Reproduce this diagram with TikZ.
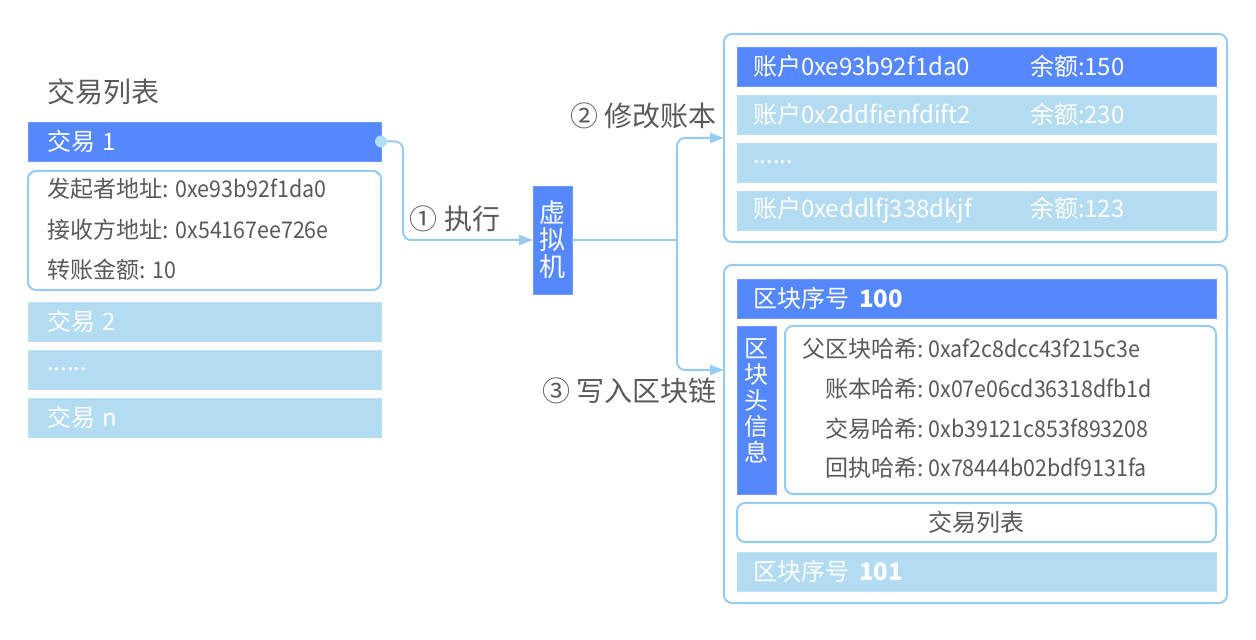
\documentclass[tikz,border=0pt]{standalone}
\usepackage{fontspec}
\setmainfont{Noto Sans CJK SC}
\newfontfamily\hexfont[FakeStretch=0.93]{Noto Sans CJK SC}
\newcommand\hexv[1]{{\hexfont #1}}
\usetikzlibrary{positioning, arrows.meta}

\definecolor{blueD}{HTML}{5588FF}
\definecolor{blueL}{HTML}{B3DBF1}
\definecolor{lineC}{HTML}{95CBF5}
\definecolor{dotC}{HTML}{B0DEFA}
\definecolor{txtC}{HTML}{595959}

\begin{document}
\begin{tikzpicture}[
  x=0.5pt, y=-0.5pt,
  font=\fontsize{12}{14}\selectfont, text=txtC,
  node distance=4.5pt,
  dark/.style={fill=blueD, draw=blueD!85!white, text=white, inner ysep=0pt, outer sep=0pt},
  light/.style={fill=blueL, draw=blueL!85!white, text=white, inner ysep=0pt, outer sep=0pt},
  lrow/.style={minimum height=19.5pt, inner xsep=9.5pt, text width=157.5pt, align=left},
  arow/.style={minimum height=19.5pt, inner xsep=8pt, text width=223.5pt, align=left},
  box/.style={draw=lineC, line width=1pt, rounded corners=4pt, fill=white, outer sep=0pt},
  txt/.style={inner sep=0pt, anchor=west, font=\fontsize{11.5}{13}\selectfont},
  big/.style={font=\fontsize{14}{16}\selectfont},
  conn/.style={draw=lineC, line width=1pt},
  flow/.style={conn, rounded corners=4pt, -{Triangle[length=7pt, width=5pt]}},
]
  \useasboundingbox (0,0) rectangle (1256,640);

  % transaction list (left)
  \node[big, inner sep=0pt, anchor=west] (title) at (47,92) {交易列表};
  \node[dark, lrow, anchor=north west] (tx1) at (28,122) {交易 1};
  \node[box, below=5pt of tx1, minimum width=176.5pt, minimum height=59.5pt] (txinfo) {};
  \node[txt] (from) at (47,189) {发起者地址: \hexv{0xe93b92f1da0}};
  \node[txt] (to) at (47,230) {接收方地址: \hexv{0x54167ee726e}};
  \node[txt] (amt) at (47,270) {转账金额: \hexv{10}};
  \node[light, lrow, below=6pt of txinfo] (tx2) {交易 2};
  \node[light, lrow, below=of tx2] (txdots) {......};
  \node[light, lrow, below=of txdots] (txn) {交易 n};

  % virtual machine
  \node[dark, minimum width=19.5pt, minimum height=54pt, inner xsep=0pt, align=center,
    font=\fontsize{13}{13.5}\selectfont] (vm) at (552.5,240) {虚\\拟\\机};

  % ledger (top right)
  \node[box, anchor=north west, minimum width=251.5pt, minimum height=104pt] (acc) at (724,34) {};
  \node[dark, arow, anchor=north west] (acc1) at (737,47) {\makebox[138.5pt][l]{账户0xe93b92f1da0}余额:150};
  \node[light, arow, below=of acc1] (acc2) {\makebox[138.5pt][l]{账户0x2ddfienfdift2}余额:230};
  \node[light, arow, below=of acc2] (accdots) {......};
  \node[light, arow, below=of accdots] (acc3) {\makebox[138.5pt][l]{账户0xeddlfj338dkjf}余额:123};

  % block (bottom right)
  \node[box, anchor=north west, minimum width=251.5pt, minimum height=169pt] (blk) at (724,265) {};
  \node[dark, arow, anchor=north west] (blk100) at (737,279) {区块序号\hspace{5pt}\textbf{100}};
  \node[dark, anchor=north west, minimum width=19.5pt, minimum height=84pt, inner xsep=0pt,
    align=center, font=\fontsize{12}{13}\selectfont] (hdr) at (737,326) {区\\块\\头\\信\\息\\[-3pt]\mbox{}};
  \node[box, anchor=north west, minimum width=215.5pt, minimum height=84pt] (hdrinfo) at (785,326) {};
  \node[txt] (phash) at (800,349) {\makebox[61.5pt][r]{父区块哈希:} \hexv{0xaf2c8dcc43f215c3e}};
  \node[txt] (lhash) at (800,389) {\makebox[61.5pt][r]{账本哈希:} \hexv{0x07e06cd36318dfb1d}};
  \node[txt] (thash) at (800,429) {\makebox[61.5pt][r]{交易哈希:} \hexv{0xb39121c853f893208}};
  \node[txt] (rhash) at (800,468) {\makebox[61.5pt][r]{回执哈希:} \hexv{0x78444b02bdf9131fa}};
  \node[box, anchor=north west, minimum width=239.5pt, minimum height=19.5pt] (blktx) at (737,503) {交易列表};
  \node[light, arow, anchor=north west] (blk101) at (737,552) {区块序号\hspace{5pt}\textbf{101}};

  % connectors
  \draw[flow] (tx1.east) -- ++(11pt,0) |- (vm.west);
  \node[circle, fill=dotC, minimum size=6pt, inner sep=0pt] (dot) at (tx1.east) {};
  \coordinate (split) at ([xshift=52.5pt]vm.east);
  \draw[conn] (vm.east) -- (split);
  \draw[flow] (split) |- (acc.west);
  \draw[flow] (split) |- ([yshift=32pt]blk.west);

  \node[big] (lbl1) at (455,219) {① 执行};
  \node[big, anchor=east] (lbl2) at (724,116) {② 修改账本};
  \node[big, anchor=east] (lbl3) at (724,391) {③ 写入区块链};
\end{tikzpicture}
\end{document}
